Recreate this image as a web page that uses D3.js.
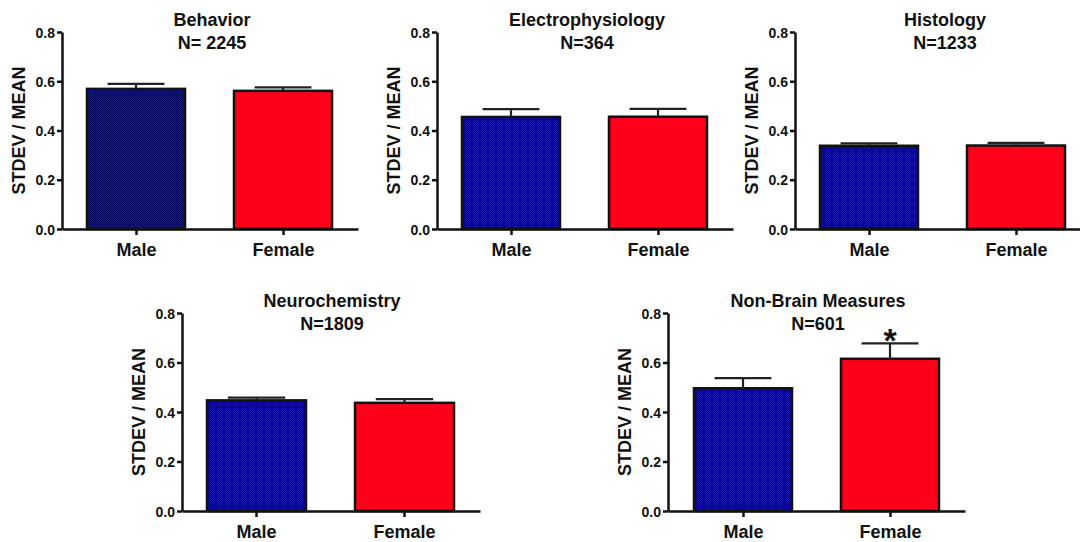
<!DOCTYPE html>
<html>
<head>
<meta charset="utf-8">
<script src="https://cdn.jsdelivr.net/npm/d3@7"></script>
<style>
  body { margin: 0; background: #fff; }
  svg text { font-family: "Liberation Sans", Arial, sans-serif; font-weight: bold; fill: #111; }
  .axis path, .axis line { stroke: #111; stroke-width: 2.5; }
  .bar { stroke: #111; stroke-width: 2.5; }
  .err { stroke: #222; stroke-width: 2.2; fill: none; }
</style>
</head>
<body>
<div id="chart"></div>
<script>

// data
var groups     = ["Male", "Female"];
var titles     = ["Behavior", "Electrophysiology", "Histology", "Neurochemistry", "Non-Brain Measures"];
var nLabels    = ["N= 2245", "N=364", "N=1233", "N=1809", "N=601"];
var maleMean   = [0.569, 0.455, 0.338, 0.447, 0.496];
var maleErr    = [0.020, 0.032, 0.010, 0.011, 0.041];
var femaleMean = [0.561, 0.456, 0.339, 0.437, 0.615];
var femaleErr  = [0.014, 0.032, 0.011, 0.015, 0.062];
var signif     = [false, false, false, false, true];
var yTicks     = [0, 0.2, 0.4, 0.6, 0.8];
var yLabel     = "STDEV / MEAN";

// where each little plot sits on the page
var layout = [
  {x: 62,  y: 32,  w: 296, h: 197},
  {x: 437, y: 32,  w: 296, h: 197},
  {x: 795, y: 32,  w: 296, h: 197},
  {x: 182, y: 313, w: 298, h: 198},
  {x: 668, y: 313, w: 297, h: 198}
];

var svg = d3.select("#chart").append("svg")
  .attr("width", 1080)
  .attr("height", 542);

// checkered navy fill used by the male bars
var pat = svg.append("defs").append("pattern")
  .attr("id", "navy")
  .attr("width", 2).attr("height", 2)
  .attr("patternUnits", "userSpaceOnUse")
  .attr("shape-rendering", "crispEdges");
pat.append("rect").attr("width", 2).attr("height", 2).attr("fill", "#1414a6");
pat.append("rect").attr("width", 1).attr("height", 1).attr("fill", "#000060");
pat.append("rect").attr("x", 1).attr("y", 1).attr("width", 1).attr("height", 1).attr("fill", "#000060");

var fills = {Male: "url(#navy)", Female: "#fe0019"};

var BarPanel = function(opts) {
  this.box   = opts.box;
  this.title = opts.title;
  this.n     = opts.n;
  this.data  = opts.data;
  this.star  = opts.star;
  this.draw();
}

BarPanel.prototype.draw = function() {
  this.plot = svg.append("g")
    .attr("transform", "translate(" + this.box.x + "," + this.box.y + ")");

  this.xScale = d3.scaleBand()
    .domain(groups)
    .range([0, this.box.w])
    .paddingInner(0.33)
    .paddingOuter(0.17)
    .round(true);

  this.yScale = d3.scaleLinear()
    .domain([0, 0.8])
    .range([this.box.h, 0]);

  this.addBars();
  this.addAxes();
  this.addTitle();
}

BarPanel.prototype.addBars = function() {
  var _this = this;
  var bw = this.xScale.bandwidth();

  this.plot.selectAll(".bar")
    .data(this.data)
    .enter().append("rect")
    .attr("class", "bar")
    .attr("x", d => _this.xScale(d.group))
    .attr("y", d => _this.yScale(d.mean))
    .attr("width", bw)
    .attr("height", d => _this.yScale(0) - _this.yScale(d.mean))
    .attr("fill", d => fills[d.group]);

  // upper error bars only
  var err = this.plot.selectAll(".errg")
    .data(this.data)
    .enter().append("g")
    .attr("class", "errg");

  err.append("line")
    .attr("class", "err")
    .attr("x1", d => _this.xScale(d.group) + bw / 2)
    .attr("x2", d => _this.xScale(d.group) + bw / 2)
    .attr("y1", d => _this.yScale(d.mean))
    .attr("y2", d => _this.yScale(d.mean + d.err));

  err.append("line")
    .attr("class", "err")
    .attr("x1", d => _this.xScale(d.group) + bw * 0.21)
    .attr("x2", d => _this.xScale(d.group) + bw * 0.79)
    .attr("y1", d => _this.yScale(d.mean + d.err))
    .attr("y2", d => _this.yScale(d.mean + d.err));

  if (this.star) {
    var f = this.data[1];
    this.plot.append("text")
      .attr("x", this.xScale(f.group) + bw / 2)
      .attr("y", this.yScale(f.mean + f.err) + 9)
      .attr("text-anchor", "middle")
      .style("font-size", "34px")
      .text("*");
  }
}

BarPanel.prototype.addAxes = function() {
  var yAxis = d3.axisLeft(this.yScale)
    .tickValues(yTicks)
    .tickFormat(d3.format(".1f"))
    .tickSize(5)
    .tickSizeOuter(0)
    .tickPadding(2);

  var xAxis = d3.axisBottom(this.xScale)
    .tickSize(6)
    .tickSizeOuter(0)
    .tickPadding(8);

  var gy = this.plot.append("g")
    .attr("class", "axis")
    .call(yAxis);
  gy.selectAll("text").style("font-size", "14px").attr("dy", "0.36em");

  var gx = this.plot.append("g")
    .attr("class", "axis")
    .attr("transform", "translate(0," + this.box.h + ")")
    .call(xAxis);
  gx.selectAll("text").style("font-size", "18px").attr("dy", "0.72em");

  this.plot.selectAll(".axis .domain").attr("fill", "none");

  this.plot.append("text")
    .attr("transform", "translate(-43," + this.box.h / 2 + ") rotate(-90)")
    .attr("text-anchor", "middle")
    .attr("dy", "0.36em")
    .style("font-size", "18px")
    .text(yLabel);
}

BarPanel.prototype.addTitle = function() {
  var t = this.plot.append("text")
    .attr("text-anchor", "middle")
    .style("font-size", "18px");

  t.append("tspan")
    .attr("x", 150)
    .attr("y", -6)
    .text(this.title);

  t.append("tspan")
    .attr("x", 150)
    .attr("y", 17)
    .text(this.n);
}

titles.forEach(function(title, i) {
  new BarPanel({
    box: layout[i],
    title: title,
    n: nLabels[i],
    star: signif[i],
    data: [
      {group: groups[0], mean: maleMean[i], err: maleErr[i]},
      {group: groups[1], mean: femaleMean[i], err: femaleErr[i]}
    ]
  });
});

</script>
</body>
</html>
